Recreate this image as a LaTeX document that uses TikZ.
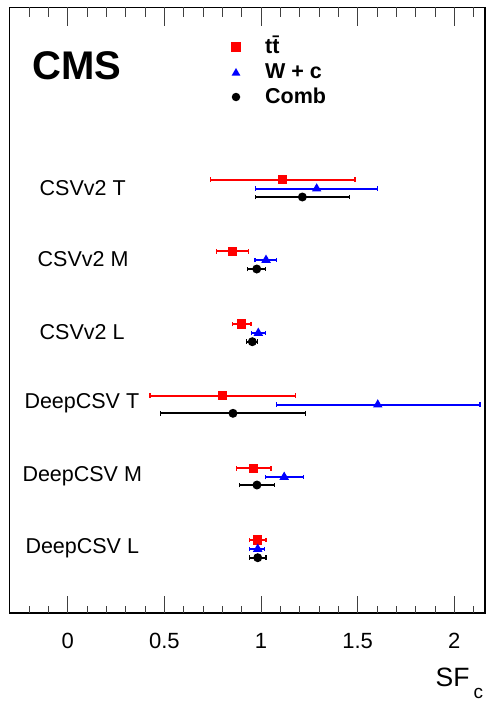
\documentclass[tikz,border=0pt]{standalone}
\usepackage{fontspec}
\setmainfont{Liberation Sans}
\usepackage{tikz}
\usetikzlibrary{positioning, shapes.geometric, arrows.meta}

\begin{document}
\begin{tikzpicture}[x=1pt,y=-1pt]
	\tikzstyle{ttbar}=[rectangle,fill=red,minimum size=9.5pt,inner sep=0pt]
	\tikzstyle{wc}=[regular polygon,regular polygon sides=3,fill=blue,minimum size=11pt,inner sep=0pt]
	\tikzstyle{comb}=[circle,fill=black,minimum size=9pt,inner sep=0pt]
	\tikzstyle{errbar}=[line width=1.8pt,{Bar[width=4.5pt,line width=1.3pt]}-{Bar[width=4.5pt,line width=1.3pt]}]
	\tikzstyle{tagger}=[anchor=base west,inner sep=0pt,font=\fontsize{21.5}{24}\selectfont]
	\tikzstyle{legtext}=[anchor=base west,inner sep=0pt,font=\bfseries\fontsize{21.5}{24}\selectfont]
	\tikzstyle{ticklabel}=[anchor=base,inner sep=0pt,font=\fontsize{22}{24}\selectfont]

	\useasboundingbox (0,0) rectangle (486,701);
	\fill[white] (0,0) rectangle (486,701);

	% frame
	\draw[line width=1.3pt] (9.5,7.5) rectangle (485,613);

	% legend
	\node[anchor=base west,inner sep=0pt,font=\bfseries\fontsize{40}{44}\selectfont] (cms) at (32,79.5) {CMS};
	\node[ttbar,minimum size=10pt] (leg-tt) at (236,47) {};
	\node[wc,minimum size=10pt] (leg-wc) at (236,73) {};
	\node[comb,minimum size=8.5pt] (leg-comb) at (236,97) {};
	\node[legtext] (leg-tt-txt) at (265,53) {t\={t}};
	\node[legtext] (leg-wc-txt) at (265,78) {W + c};
	\node[legtext] (leg-comb-txt) at (265,103) {Comb};

	% tagger names
	\node[tagger] (csvT) at (39.5,195) {CSVv2 T};
	\node[tagger] (csvM) at (37.5,266.5) {CSVv2 M};
	\node[tagger] (csvL) at (39.5,339.3) {CSVv2 L};
	\node[tagger] (deepT) at (24.3,408.3) {DeepCSV T};
	\node[tagger] (deepM) at (22.3,481.7) {DeepCSV M};
	\node[tagger] (deepL) at (25.3,553.5) {DeepCSV L};

	% axis title
	\node[anchor=base west,inner sep=0pt,font=\fontsize{26.5}{28}\selectfont] (sf) at (435.5,686.7) {SF};
	\node[anchor=base west,inner sep=0pt,font=\fontsize{19}{20}\selectfont] (sf-c) at (473.5,698.3) {c};

	\begin{scope}[shift={(67.7,0)},x=193.3pt]
		% ticks
		\foreach \t in {-2,...,21} {
			\draw[line width=0.9pt,black!75] ({\t/10},613) -- ++(0,-6.7);
			\draw[line width=0.9pt,black!75] ({\t/10},7.5) -- ++(0,9.5);
		}
		\foreach \t in {0,0.5,1,1.5,2} {
			\draw[line width=0.9pt,black!75] (\t,613) -- ++(0,-17.5);
			\draw[line width=0.9pt,black!75] (\t,7.5) -- ++(0,18.5);
			\node[ticklabel] at (\t,648.3) {\t};
		}

		% CSVv2 T
		\coordinate (csvT-tt-lo) at (0.736,179.7);  \coordinate (csvT-tt-hi) at (1.490,179.7);
		\coordinate (csvT-wc-lo) at (0.969,188.7);  \coordinate (csvT-wc-hi) at (1.605,188.7);
		\coordinate (csvT-cb-lo) at (0.969,197.0);  \coordinate (csvT-cb-hi) at (1.460,197.0);
		% CSVv2 M
		\coordinate (csvM-tt-lo) at (0.766,251.3);  \coordinate (csvM-tt-hi) at (0.940,251.3);
		\coordinate (csvM-wc-lo) at (0.965,260.0);  \coordinate (csvM-wc-hi) at (1.085,260.0);
		\coordinate (csvM-cb-lo) at (0.926,269.0);  \coordinate (csvM-cb-hi) at (1.027,269.0);
		% CSVv2 L
		\coordinate (csvL-tt-lo) at (0.848,324.0);  \coordinate (csvL-tt-hi) at (0.952,324.0);
		\coordinate (csvL-wc-lo) at (0.947,333.0);  \coordinate (csvL-wc-hi) at (1.026,333.0);
		\coordinate (csvL-cb-lo) at (0.922,341.7);  \coordinate (csvL-cb-hi) at (0.984,341.7);
		% DeepCSV T
		\coordinate (deepT-tt-lo) at (0.422,395.7); \coordinate (deepT-tt-hi) at (1.183,395.7);
		\coordinate (deepT-wc-lo) at (1.078,404.7); \coordinate (deepT-wc-hi) at (2.137,404.7);
		\coordinate (deepT-cb-lo) at (0.478,413.3); \coordinate (deepT-cb-hi) at (1.233,413.3);
		% DeepCSV M
		\coordinate (deepM-tt-lo) at (0.871,468.3); \coordinate (deepM-tt-hi) at (1.055,468.3);
		\coordinate (deepM-wc-lo) at (1.020,477.0); \coordinate (deepM-wc-hi) at (1.224,477.0);
		\coordinate (deepM-cb-lo) at (0.886,485.0); \coordinate (deepM-cb-hi) at (1.074,485.0);
		% DeepCSV L
		\coordinate (deepL-tt-lo) at (0.938,540.0); \coordinate (deepL-tt-hi) at (1.029,540.0);
		\coordinate (deepL-wc-lo) at (0.938,549.0); \coordinate (deepL-wc-hi) at (1.022,549.0);
		\coordinate (deepL-cb-lo) at (0.938,557.7); \coordinate (deepL-cb-hi) at (1.029,557.7);

		\path[errbar]
			(csvT-tt-lo) edge[red] (csvT-tt-hi)
			(csvT-wc-lo) edge[blue] (csvT-wc-hi)
			(csvT-cb-lo) edge[black] (csvT-cb-hi)
			(csvM-tt-lo) edge[red] (csvM-tt-hi)
			(csvM-wc-lo) edge[blue] (csvM-wc-hi)
			(csvM-cb-lo) edge[black] (csvM-cb-hi)
			(csvL-tt-lo) edge[red] (csvL-tt-hi)
			(csvL-wc-lo) edge[blue] (csvL-wc-hi)
			(csvL-cb-lo) edge[black] (csvL-cb-hi)
			(deepT-tt-lo) edge[red] (deepT-tt-hi)
			(deepT-wc-lo) edge[blue] (deepT-wc-hi)
			(deepT-cb-lo) edge[black] (deepT-cb-hi)
			(deepM-tt-lo) edge[red] (deepM-tt-hi)
			(deepM-wc-lo) edge[blue] (deepM-wc-hi)
			(deepM-cb-lo) edge[black] (deepM-cb-hi)
			(deepL-tt-lo) edge[red] (deepL-tt-hi)
			(deepL-wc-lo) edge[blue] (deepL-wc-hi)
			(deepL-cb-lo) edge[black] (deepL-cb-hi);

		% central values
		\node[ttbar](csvT-tt) at (1.112,179.7) {};
		\node[wc](csvT-wc) at (1.288,188.7) {};
		\node[comb](csvT-cb) at (1.214,197.0) {};
		\node[ttbar](csvM-tt) at (0.852,251.3) {};
		\node[wc](csvM-wc) at (1.026,260.0) {};
		\node[comb](csvM-cb) at (0.978,269.0) {};
		\node[ttbar](csvL-tt) at (0.898,324.0) {};
		\node[wc](csvL-wc) at (0.986,333.0) {};
		\node[comb](csvL-cb) at (0.955,341.7) {};
		\node[ttbar](deepT-tt) at (0.802,395.7) {};
		\node[wc](deepT-wc) at (1.604,404.7) {};
		\node[comb](deepT-cb) at (0.855,413.3) {};
		\node[ttbar](deepM-tt) at (0.960,468.3) {};
		\node[wc](deepM-wc) at (1.120,477.0) {};
		\node[comb](deepM-cb) at (0.979,485.0) {};
		\node[ttbar](deepL-tt) at (0.983,540.0) {};
		\node[wc](deepL-wc) at (0.983,549.0) {};
		\node[comb](deepL-cb) at (0.983,557.7) {};
	\end{scope}
\end{tikzpicture}
\end{document}
